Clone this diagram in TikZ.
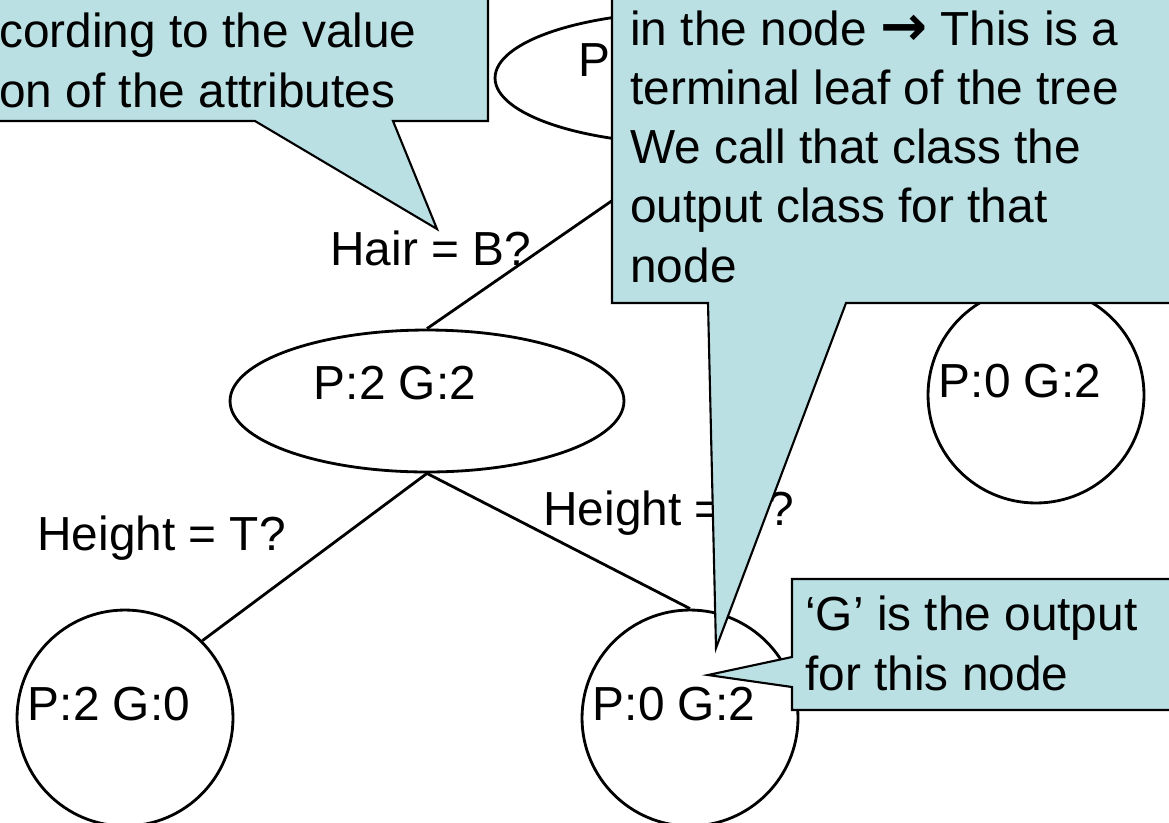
\documentclass[tikz,border=0pt]{standalone}
\usepackage{fontspec}
\setmainfont{Liberation Sans}
\newfontfamily\arrowfont{DejaVu Sans}
\usetikzlibrary{shapes.geometric}
\definecolor{calloutblue}{RGB}{186,224,228}

\begin{document}
\begin{tikzpicture}[x=0.02cm, y=-0.02cm,
	every node/.style={font=\fontsize{27.2}{33.7}\selectfont},
	split/.style={ellipse, draw, line width=1.6pt, minimum width=7.88cm, minimum height=2.84cm, inner sep=0pt},
	leaf/.style={circle, draw, line width=1.6pt, minimum size=4.32cm, inner sep=0pt},
	tag/.style={inner sep=0pt, shift={(-32,-18)}},
	leaftag/.style={inner sep=0pt, shift={(-16,-14)}},
	edge/.style={line width=1.6pt},
	query/.style={inner sep=0pt, anchor=base west},
	note/.style={draw, fill=calloutblue, line width=1.2pt, line join=miter},
	notetext/.style={inner sep=0pt, align=left, anchor=base west}]

\useasboundingbox (0,0) rectangle (1169,822);
\clip (0,0) rectangle (1169,822);

				% the tree
				\node[split, minimum height=2.64cm, label={[tag]center:{P:2 G:4}}] (root) at (692,78) {};
				\node[split, label={[tag]center:{P:2 G:2}}] (dark) at (427,401) {};
				\node[leaf, label={[leaftag]center:{P:0 G:2}}] (fair) at (1036,395) {};
				\node[leaf, label={[leaftag]center:{P:2 G:0}}] (tall) at (125,718) {};
				\node[leaf, label={[leaftag]center:{P:0 G:2}}] (short) at (690,718) {};
				\draw[edge] (root.south) -- (dark.north);
				\draw[edge] (root.south) -- (fair.north);
				\draw[edge] (dark.south) -- (tall.45);
				\draw[edge] (dark.south) -- (short.north);
				\node[query] (qhair) at (330,265) {Hair = B?};
				\node[query] (qtall) at (37,550) {Height = T?};
				\node[query] (qshort) at (543,525) {Height = S?};

				% callouts on top (text anchored on its last line)
				\draw[note] (-20,-20) -- (488,-20) -- (488,121) -- (393,121) -- (437,229) -- (255,121) -- (-20,121) -- cycle;
				\node[notetext] (splitnote) at (-1,107) {cording to the value\\on of the attributes};
				\draw[note] (612,-20) -- (1190,-20) -- (1190,303) -- (846,303) -- (716,648) -- (708,303) -- (612,303) -- cycle;
				\node[notetext] (leafnote) at (630,282) {in the node {\arrowfont\bfseries\fontsize{32}{33.7}\selectfont →} This is a\\terminal leaf of the tree\\We call that class the\\output class for that\\node};
				\draw[note] (792,579) -- (1190,579) -- (1190,710) -- (792,710) -- (792,687) -- (708,675) -- (792,657) -- cycle;
				\node[notetext] (outnote) at (805,690) {‘G’ is the output\\for this node};

\end{tikzpicture}
\end{document}
